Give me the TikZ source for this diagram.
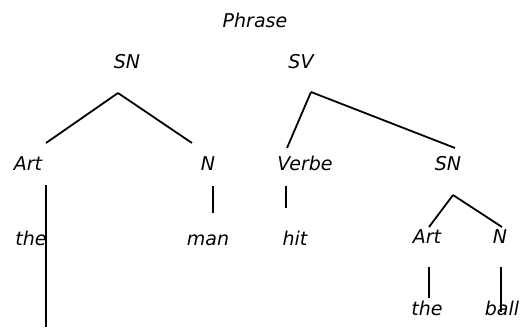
\documentclass[tikz,border=0pt]{standalone}
\usepackage{fontspec}
\setmainfont{DejaVu Sans}
\begin{document}
\begin{tikzpicture}[x=1pt,y=-1pt]
	\useasboundingbox (0,0) rectangle (520,330);
	\tikzstyle{every node}=[font=\fontsize{19}{22}\selectfont\itshape,anchor=base,inner sep=0pt];
	\node (phrase) at (255,27) {Phrase};
	\node (sn) at (127,68) {SN};
	\node (sv) at (301,68) {SV};
	\node (art) at (28,170) {Art};
	\node (n) at (208,170) {N};
	\node (verbe) at (305,170) {Verbe};
	\node (snb) at (448,170) {SN};
	\node (the) at (31,245) {the};
	\node (man) at (208,245) {man};
	\node (hit) at (295,245) {hit};
	\node (artb) at (427,243) {Art};
	\node (nb) at (500,243) {N};
	\node (theb) at (427,315) {the};
	\node (ball) at (502,315) {ball};
	% branch ends
	\coordinate (sn-top) at (118,93);
	\coordinate (sn-l) at (46,143);
	\coordinate (sn-r) at (192,143);
	\coordinate (sv-top) at (311,92);
	\coordinate (sv-l) at (287,148);
	\coordinate (sv-r) at (455,148);
	\coordinate (art-a) at (46,185);
	\coordinate (art-b) at (46,327);
	\coordinate (n-a) at (213,186);
	\coordinate (n-b) at (213,213);
	\coordinate (verbe-a) at (286,186);
	\coordinate (verbe-b) at (286,208);
	\coordinate (snb-top) at (453,195);
	\coordinate (snb-l) at (429,227);
	\coordinate (snb-r) at (502,227);
	\coordinate (artb-a) at (429,267);
	\coordinate (artb-b) at (429,298);
	\coordinate (nb-a) at (501,267);
	\coordinate (nb-b) at (501,312);
	\draw[line width=1.8pt] (sn-top) -- (sn-l)(sn-top) -- (sn-r)(sv-top) -- (sv-l)(sv-top) -- (sv-r)(snb-top) -- (snb-l)(snb-top) -- (snb-r);
	\draw[line width=1.8pt] (art-a) -- (art-b)(n-a) -- (n-b)(verbe-a) -- (verbe-b)(artb-a) -- (artb-b)(nb-a) -- (nb-b);
\end{tikzpicture}
\end{document}
